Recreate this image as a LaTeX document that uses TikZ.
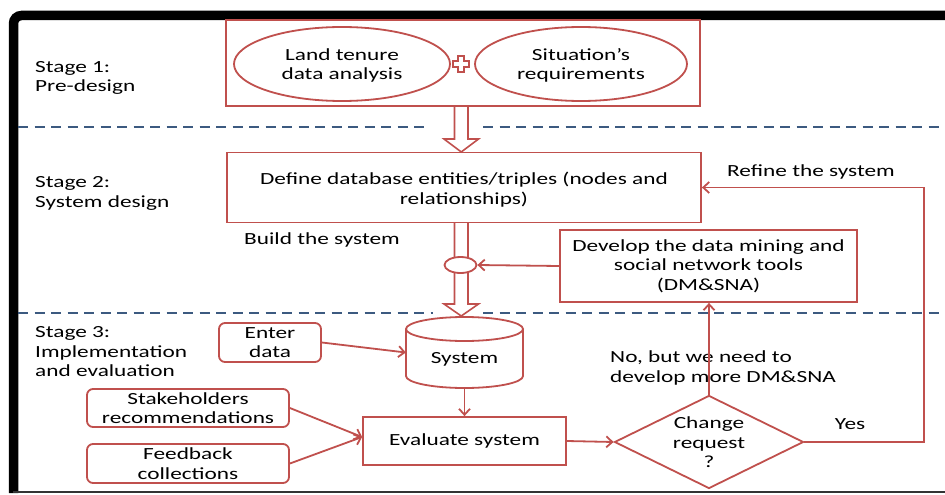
\documentclass[tikz,border=0pt]{standalone}
\usepackage{fontspec}
\setmainfont{Carlito}[FakeStretch=1.37]
\usetikzlibrary{shapes.geometric,arrows.meta}
\definecolor{redline}{RGB}{192,80,77}
\definecolor{dashblue}{RGB}{60,90,128}
\begin{document}
\begin{tikzpicture}[x=1pt,y=-1pt,
  rl/.style={draw=redline, line width=1.8pt},
  box/.style={rl, rectangle, inner sep=0pt, fill=white},
  rbox/.style={box, rounded corners=6pt},
  txt/.style={font=\fontsize{17}{19.5}\selectfont, align=center, inner sep=0pt},
  lbl/.style={font=\fontsize{17}{19.5}\selectfont, align=left, inner sep=0pt, anchor=west},
  arr/.style={rl, -{Straight Barb[length=6pt,width=11pt]}},
  dline/.style={draw=dashblue, line width=2.5pt, dash pattern=on 10pt off 6.5pt},
  dblarrow/.style={rl, fill=white, line width=1.6pt, line join=miter}
]
\useasboundingbox (0,0) rectangle (945,495);
\fill[white] (0,0) rectangle (945,495);

% frame
\draw[line width=9.5pt, rounded corners=8pt] (13.5,493) -- (13.5,15.5) -- (945,15.5);
\draw[line width=2pt, black!80] (13,492) -- (945,492);

% dashed separators
\draw[dline] (18,127) -- (428,127);
\draw[dline] (483,127) -- (945,127);
\draw[dline] (18,313) -- (433,313);
\draw[dline] (483,313) -- (945,313);

% stage labels
\node[lbl] (st1) at (35,78) {Stage 1:\\Pre-design};
\node[lbl] (st2) at (35,193.5) {Stage 2:\\System design};
\node[lbl] (st3) at (35,352) {Stage 3:\\Implementation\\and evaluation};

% stage 1
\node[box, minimum width=474pt, minimum height=86pt] (s1) at (463,63) {};
\node[rl, ellipse, fill=white, inner sep=0pt, minimum width=216pt, minimum height=74pt] (e1) at (342,64) {};
\node[txt] (e1t) at (342,65.5) {Land tenure\\data analysis};
\node[rl, ellipse, fill=white, inner sep=0pt, minimum width=212pt, minimum height=74pt] (e2) at (581,64) {};
\node[txt] (e2t) at (581,65.5) {Situation’s\\requirements};
\draw[rl, line width=1.8pt, fill=white] (458,56) -- (464,56) -- (464,61) -- (469,61) -- (469,67) -- (464,67) -- (464,72) -- (458,72) -- (458,67) -- (453,67) -- (453,61) -- (458,61) -- cycle;

% stage 2
\node[box, minimum width=474pt, minimum height=70pt] (s2) at (464,187.5) {};
\node[txt] (s2t) at (464,189.5) {Define database entities/triples (nodes and\\relationships)};
\node[box, minimum width=297pt, minimum height=72pt, txt] (dm) at (708.5,266) {Develop the data mining and\\social network tools\\(DM\&SNA)};

% double arrows
\draw[dblarrow] (454.5,107) -- (454.5,139) -- (444,139) -- (461.25,152) -- (478.5,139) -- (468,139) -- (468,107);
\draw[dblarrow] (454.5,223) -- (454.5,304) -- (444,304) -- (461.25,316) -- (478.5,304) -- (468,304) -- (468,223);
\node[rl, ellipse, fill=white, inner sep=0pt, minimum width=32pt, minimum height=16pt] (sml) at (460.5,265) {};

\node[txt] (build) at (322,240) {Build the system};
\node[txt] (refine) at (811,172) {Refine the system};

% stage 3
\draw[rl, fill=white] (406,329) -- (406,376) arc[start angle=180, end angle=360, x radius=58.5pt, y radius=12pt] -- (523,329);
\draw[rl, fill=white] (464.5,329) ellipse[x radius=58.5pt, y radius=12pt];
\node[minimum width=117pt, minimum height=71pt, inner sep=0pt] (sys) at (464.5,352.5) {};
\node[txt] (systxt) at (464.5,359.5) {System};

\node[rbox, minimum width=102pt, minimum height=39pt, txt] (enter) at (270,342.5) {Enter\\data};
\node[rbox, minimum width=202pt, minimum height=38pt, txt] (stake) at (188,408) {Stakeholders\\recommendations};
\node[rbox, minimum width=202pt, minimum height=39pt, txt] (feed) at (188,463.5) {Feedback\\collections};
\node[box, minimum width=203pt, minimum height=48pt, txt] (eval) at (464.5,441) {Evaluate system};
\node[rl, diamond, fill=white, inner sep=0pt, minimum width=189pt, minimum height=93pt, aspect=2.03] (chg) at (709,442) {};
\node[txt] (chgtxt) at (709,442.5) {Change\\request\\?};

\node[lbl] (nobut) at (610,368) {No, but we need to\\develop more DM\&SNA};
\node[txt] (yes) at (850,424) {Yes};

\coordinate (evin) at ([yshift=4pt]eval.west);
\coordinate (rf) at (924,187.5);

% connectors
\draw[arr] (dm.west) -- (sml.east);
\draw[arr] (chg.north) -- (chg.north |- dm.south);
\draw[arr] (enter.east) -- (sys.west);
\draw[arr] (sys.south) -- (eval.north);
\draw[arr] (stake.east) -- (evin);
\draw[arr] (feed.east) -- (evin);
\draw[arr] (eval.east) -- (chg.west);
\draw[arr] (chg.east) -| (rf) -- (s2.east);
\end{tikzpicture}
\end{document}
